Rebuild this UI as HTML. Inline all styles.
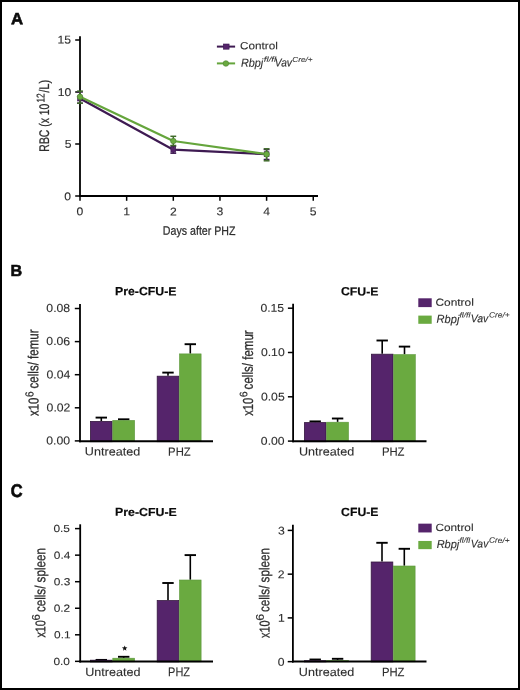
<!DOCTYPE html><html><head><meta charset="utf-8"><style>html,body{margin:0;padding:0;background:#fff;}svg{display:block;font-family:"Liberation Sans",sans-serif;} text{text-rendering:geometricPrecision;}</style></head><body><div style="width:520px;height:690px;will-change:transform"><svg width="520" height="690" viewBox="0 0 520 690" font-family='"Liberation Sans", sans-serif'><rect x="0" y="0" width="520" height="690" fill="#fff"/><line x1="80.00" y1="36.30" x2="80.00" y2="197.00" stroke="#000" stroke-width="1.80" stroke-linecap="butt"/><line x1="79.10" y1="196.00" x2="318.00" y2="196.00" stroke="#000" stroke-width="1.80" stroke-linecap="butt"/><line x1="75.20" y1="40.00" x2="80.00" y2="40.00" stroke="#000" stroke-width="1.50" stroke-linecap="butt"/><line x1="75.20" y1="92.00" x2="80.00" y2="92.00" stroke="#000" stroke-width="1.50" stroke-linecap="butt"/><line x1="75.20" y1="144.00" x2="80.00" y2="144.00" stroke="#000" stroke-width="1.50" stroke-linecap="butt"/><line x1="75.20" y1="196.00" x2="80.00" y2="196.00" stroke="#000" stroke-width="1.50" stroke-linecap="butt"/><line x1="80.00" y1="196.00" x2="80.00" y2="200.80" stroke="#000" stroke-width="1.50" stroke-linecap="butt"/><line x1="126.65" y1="196.00" x2="126.65" y2="200.80" stroke="#000" stroke-width="1.50" stroke-linecap="butt"/><line x1="173.30" y1="196.00" x2="173.30" y2="200.80" stroke="#000" stroke-width="1.50" stroke-linecap="butt"/><line x1="219.95" y1="196.00" x2="219.95" y2="200.80" stroke="#000" stroke-width="1.50" stroke-linecap="butt"/><line x1="266.60" y1="196.00" x2="266.60" y2="200.80" stroke="#000" stroke-width="1.50" stroke-linecap="butt"/><line x1="313.25" y1="196.00" x2="313.25" y2="200.80" stroke="#000" stroke-width="1.50" stroke-linecap="butt"/><line x1="80.00" y1="92.00" x2="80.00" y2="103.20" stroke="#3e1a52" stroke-width="1.50" stroke-linecap="butt"/><line x1="77.10" y1="92.00" x2="82.90" y2="92.00" stroke="#3e1a52" stroke-width="1.50" stroke-linecap="butt"/><line x1="77.10" y1="103.20" x2="82.90" y2="103.20" stroke="#3e1a52" stroke-width="1.50" stroke-linecap="butt"/><line x1="173.30" y1="146.20" x2="173.30" y2="153.20" stroke="#3e1a52" stroke-width="1.50" stroke-linecap="butt"/><line x1="170.40" y1="146.20" x2="176.20" y2="146.20" stroke="#3e1a52" stroke-width="1.50" stroke-linecap="butt"/><line x1="170.40" y1="153.20" x2="176.20" y2="153.20" stroke="#3e1a52" stroke-width="1.50" stroke-linecap="butt"/><line x1="266.60" y1="149.50" x2="266.60" y2="159.50" stroke="#3e1a52" stroke-width="1.50" stroke-linecap="butt"/><line x1="263.70" y1="149.50" x2="269.50" y2="149.50" stroke="#3e1a52" stroke-width="1.50" stroke-linecap="butt"/><line x1="263.70" y1="159.50" x2="269.50" y2="159.50" stroke="#3e1a52" stroke-width="1.50" stroke-linecap="butt"/><polyline points="80.0,98.5 173.3,149.7 266.6,154.2" fill="none" stroke="#3e1a52" stroke-width="2.2" stroke-linejoin="round"/><rect x="77.60" y="96.00" width="4.80" height="5.00" fill="#55246b" stroke="#3e1a52" stroke-width="0.6"/><rect x="170.90" y="147.20" width="4.80" height="5.00" fill="#55246b" stroke="#3e1a52" stroke-width="0.6"/><rect x="264.20" y="151.70" width="4.80" height="5.00" fill="#55246b" stroke="#3e1a52" stroke-width="0.6"/><line x1="80.00" y1="91.10" x2="80.00" y2="103.20" stroke="#3f6a2a" stroke-width="1.50" stroke-linecap="butt"/><line x1="77.10" y1="91.10" x2="82.90" y2="91.10" stroke="#3f6a2a" stroke-width="1.50" stroke-linecap="butt"/><line x1="77.10" y1="103.20" x2="82.90" y2="103.20" stroke="#3f6a2a" stroke-width="1.50" stroke-linecap="butt"/><line x1="173.30" y1="136.30" x2="173.30" y2="145.50" stroke="#3f6a2a" stroke-width="1.50" stroke-linecap="butt"/><line x1="170.40" y1="136.30" x2="176.20" y2="136.30" stroke="#3f6a2a" stroke-width="1.50" stroke-linecap="butt"/><line x1="170.40" y1="145.50" x2="176.20" y2="145.50" stroke="#3f6a2a" stroke-width="1.50" stroke-linecap="butt"/><line x1="266.60" y1="148.80" x2="266.60" y2="160.80" stroke="#3f6a2a" stroke-width="1.50" stroke-linecap="butt"/><line x1="263.70" y1="148.80" x2="269.50" y2="148.80" stroke="#3f6a2a" stroke-width="1.50" stroke-linecap="butt"/><line x1="263.70" y1="160.80" x2="269.50" y2="160.80" stroke="#3f6a2a" stroke-width="1.50" stroke-linecap="butt"/><polyline points="80.0,96.8 173.3,141.0 266.6,154.2" fill="none" stroke="#65a53c" stroke-width="2.2" stroke-linejoin="round"/><circle cx="80.0" cy="96.8" r="2.8" fill="#6aaa40" stroke="#4a8030" stroke-width="0.6"/><circle cx="173.3" cy="141.0" r="2.8" fill="#6aaa40" stroke="#4a8030" stroke-width="0.6"/><circle cx="266.6" cy="154.2" r="2.8" fill="#6aaa40" stroke="#4a8030" stroke-width="0.6"/><line x1="216.90" y1="46.60" x2="235.10" y2="46.60" stroke="#3e1a52" stroke-width="2.00" stroke-linecap="butt"/><rect x="223.30" y="44.00" width="5.80" height="5.20" fill="#55246b" stroke="#3e1a52" stroke-width="0.6"/><line x1="216.90" y1="63.40" x2="235.10" y2="63.40" stroke="#65a53c" stroke-width="2.00" stroke-linecap="butt"/><circle cx="225.9" cy="63.5" r="2.8" fill="#6aaa40" stroke="#4a8030" stroke-width="0.6"/><line x1="101.30" y1="417.60" x2="101.30" y2="421.00" stroke="#000" stroke-width="1.60" stroke-linecap="butt"/><line x1="95.60" y1="417.60" x2="107.00" y2="417.60" stroke="#000" stroke-width="1.90" stroke-linecap="butt"/><rect x="90.50" y="421.40" width="21.60" height="20.30" fill="#55246b" stroke="#35183f" stroke-width="0.8"/><line x1="123.70" y1="419.30" x2="123.70" y2="420.10" stroke="#000" stroke-width="1.60" stroke-linecap="butt"/><line x1="118.00" y1="419.30" x2="129.40" y2="419.30" stroke="#000" stroke-width="1.90" stroke-linecap="butt"/><rect x="112.80" y="420.40" width="21.80" height="21.20" fill="#6aaa40" stroke="#5a963a" stroke-width="0.6"/><line x1="168.00" y1="372.60" x2="168.00" y2="375.80" stroke="#000" stroke-width="1.60" stroke-linecap="butt"/><line x1="162.30" y1="372.60" x2="173.70" y2="372.60" stroke="#000" stroke-width="1.90" stroke-linecap="butt"/><rect x="157.20" y="376.20" width="21.60" height="65.50" fill="#55246b" stroke="#35183f" stroke-width="0.8"/><line x1="190.30" y1="344.20" x2="190.30" y2="353.60" stroke="#000" stroke-width="1.60" stroke-linecap="butt"/><line x1="184.60" y1="344.20" x2="196.00" y2="344.20" stroke="#000" stroke-width="1.90" stroke-linecap="butt"/><rect x="179.50" y="353.90" width="21.60" height="87.70" fill="#6aaa40" stroke="#5a963a" stroke-width="0.6"/><line x1="80.00" y1="304.00" x2="80.00" y2="442.30" stroke="#000" stroke-width="1.80" stroke-linecap="butt"/><line x1="79.10" y1="441.30" x2="213.00" y2="441.30" stroke="#000" stroke-width="2.00" stroke-linecap="butt"/><line x1="74.80" y1="308.50" x2="80.00" y2="308.50" stroke="#000" stroke-width="1.50" stroke-linecap="butt"/><line x1="74.80" y1="341.60" x2="80.00" y2="341.60" stroke="#000" stroke-width="1.50" stroke-linecap="butt"/><line x1="74.80" y1="374.70" x2="80.00" y2="374.70" stroke="#000" stroke-width="1.50" stroke-linecap="butt"/><line x1="74.80" y1="407.80" x2="80.00" y2="407.80" stroke="#000" stroke-width="1.50" stroke-linecap="butt"/><line x1="74.80" y1="440.90" x2="80.00" y2="440.90" stroke="#000" stroke-width="1.50" stroke-linecap="butt"/><line x1="315.20" y1="421.40" x2="315.20" y2="422.20" stroke="#000" stroke-width="1.60" stroke-linecap="butt"/><line x1="309.50" y1="421.40" x2="320.90" y2="421.40" stroke="#000" stroke-width="1.90" stroke-linecap="butt"/><rect x="304.40" y="422.60" width="21.60" height="19.10" fill="#55246b" stroke="#35183f" stroke-width="0.8"/><line x1="337.60" y1="418.50" x2="337.60" y2="421.90" stroke="#000" stroke-width="1.60" stroke-linecap="butt"/><line x1="331.90" y1="418.50" x2="343.30" y2="418.50" stroke="#000" stroke-width="1.90" stroke-linecap="butt"/><rect x="326.70" y="422.20" width="21.80" height="19.40" fill="#6aaa40" stroke="#5a963a" stroke-width="0.6"/><line x1="382.20" y1="340.50" x2="382.20" y2="353.80" stroke="#000" stroke-width="1.60" stroke-linecap="butt"/><line x1="376.50" y1="340.50" x2="387.90" y2="340.50" stroke="#000" stroke-width="1.90" stroke-linecap="butt"/><rect x="371.40" y="354.20" width="21.60" height="87.50" fill="#55246b" stroke="#35183f" stroke-width="0.8"/><line x1="404.50" y1="346.60" x2="404.50" y2="354.30" stroke="#000" stroke-width="1.60" stroke-linecap="butt"/><line x1="398.80" y1="346.60" x2="410.20" y2="346.60" stroke="#000" stroke-width="1.90" stroke-linecap="butt"/><rect x="393.70" y="354.60" width="21.60" height="87.00" fill="#6aaa40" stroke="#5a963a" stroke-width="0.6"/><line x1="293.10" y1="303.80" x2="293.10" y2="442.30" stroke="#000" stroke-width="1.80" stroke-linecap="butt"/><line x1="292.20" y1="441.30" x2="426.50" y2="441.30" stroke="#000" stroke-width="2.00" stroke-linecap="butt"/><line x1="287.90" y1="308.20" x2="293.10" y2="308.20" stroke="#000" stroke-width="1.50" stroke-linecap="butt"/><line x1="287.90" y1="352.50" x2="293.10" y2="352.50" stroke="#000" stroke-width="1.50" stroke-linecap="butt"/><line x1="287.90" y1="396.80" x2="293.10" y2="396.80" stroke="#000" stroke-width="1.50" stroke-linecap="butt"/><line x1="287.90" y1="441.10" x2="293.10" y2="441.10" stroke="#000" stroke-width="1.50" stroke-linecap="butt"/><line x1="101.30" y1="659.90" x2="101.30" y2="659.80" stroke="#000" stroke-width="1.60" stroke-linecap="butt"/><line x1="95.60" y1="659.90" x2="107.00" y2="659.90" stroke="#000" stroke-width="1.90" stroke-linecap="butt"/><rect x="90.50" y="660.20" width="21.60" height="1.70" fill="#55246b" stroke="#35183f" stroke-width="0.8"/><line x1="123.70" y1="656.80" x2="123.70" y2="657.90" stroke="#000" stroke-width="1.60" stroke-linecap="butt"/><line x1="118.00" y1="656.80" x2="129.40" y2="656.80" stroke="#000" stroke-width="1.90" stroke-linecap="butt"/><rect x="112.80" y="658.20" width="21.80" height="3.60" fill="#6aaa40" stroke="#5a963a" stroke-width="0.6"/><line x1="168.00" y1="583.00" x2="168.00" y2="600.20" stroke="#000" stroke-width="1.60" stroke-linecap="butt"/><line x1="162.30" y1="583.00" x2="173.70" y2="583.00" stroke="#000" stroke-width="1.90" stroke-linecap="butt"/><rect x="157.20" y="600.60" width="21.60" height="61.30" fill="#55246b" stroke="#35183f" stroke-width="0.8"/><line x1="190.30" y1="555.10" x2="190.30" y2="579.70" stroke="#000" stroke-width="1.60" stroke-linecap="butt"/><line x1="184.60" y1="555.10" x2="196.00" y2="555.10" stroke="#000" stroke-width="1.90" stroke-linecap="butt"/><rect x="179.50" y="580.00" width="21.60" height="81.80" fill="#6aaa40" stroke="#5a963a" stroke-width="0.6"/><line x1="80.20" y1="524.30" x2="80.20" y2="662.50" stroke="#000" stroke-width="1.80" stroke-linecap="butt"/><line x1="79.30" y1="661.50" x2="213.00" y2="661.50" stroke="#000" stroke-width="2.00" stroke-linecap="butt"/><line x1="75.00" y1="528.60" x2="80.20" y2="528.60" stroke="#000" stroke-width="1.50" stroke-linecap="butt"/><line x1="75.00" y1="555.15" x2="80.20" y2="555.15" stroke="#000" stroke-width="1.50" stroke-linecap="butt"/><line x1="75.00" y1="581.70" x2="80.20" y2="581.70" stroke="#000" stroke-width="1.50" stroke-linecap="butt"/><line x1="75.00" y1="608.25" x2="80.20" y2="608.25" stroke="#000" stroke-width="1.50" stroke-linecap="butt"/><line x1="75.00" y1="634.80" x2="80.20" y2="634.80" stroke="#000" stroke-width="1.50" stroke-linecap="butt"/><line x1="75.00" y1="661.35" x2="80.20" y2="661.35" stroke="#000" stroke-width="1.50" stroke-linecap="butt"/><line x1="315.20" y1="659.50" x2="315.20" y2="660.30" stroke="#000" stroke-width="1.60" stroke-linecap="butt"/><line x1="309.50" y1="659.50" x2="320.90" y2="659.50" stroke="#000" stroke-width="1.90" stroke-linecap="butt"/><rect x="304.40" y="660.70" width="21.60" height="1.20" fill="#55246b" stroke="#35183f" stroke-width="0.8"/><line x1="337.60" y1="658.80" x2="337.60" y2="660.10" stroke="#000" stroke-width="1.60" stroke-linecap="butt"/><line x1="331.90" y1="658.80" x2="343.30" y2="658.80" stroke="#000" stroke-width="1.90" stroke-linecap="butt"/><rect x="326.70" y="660.40" width="21.80" height="1.40" fill="#6aaa40" stroke="#5a963a" stroke-width="0.6"/><line x1="382.00" y1="542.80" x2="382.00" y2="561.60" stroke="#000" stroke-width="1.60" stroke-linecap="butt"/><line x1="376.30" y1="542.80" x2="387.70" y2="542.80" stroke="#000" stroke-width="1.90" stroke-linecap="butt"/><rect x="371.20" y="562.00" width="21.60" height="99.90" fill="#55246b" stroke="#35183f" stroke-width="0.8"/><line x1="404.30" y1="548.80" x2="404.30" y2="565.70" stroke="#000" stroke-width="1.60" stroke-linecap="butt"/><line x1="398.60" y1="548.80" x2="410.00" y2="548.80" stroke="#000" stroke-width="1.90" stroke-linecap="butt"/><rect x="393.50" y="566.00" width="21.60" height="95.80" fill="#6aaa40" stroke="#5a963a" stroke-width="0.6"/><line x1="292.90" y1="524.80" x2="292.90" y2="662.50" stroke="#000" stroke-width="1.80" stroke-linecap="butt"/><line x1="292.00" y1="661.50" x2="426.50" y2="661.50" stroke="#000" stroke-width="2.00" stroke-linecap="butt"/><line x1="287.70" y1="530.40" x2="292.90" y2="530.40" stroke="#000" stroke-width="1.50" stroke-linecap="butt"/><line x1="287.70" y1="574.15" x2="292.90" y2="574.15" stroke="#000" stroke-width="1.50" stroke-linecap="butt"/><line x1="287.70" y1="617.90" x2="292.90" y2="617.90" stroke="#000" stroke-width="1.50" stroke-linecap="butt"/><line x1="287.70" y1="661.65" x2="292.90" y2="661.65" stroke="#000" stroke-width="1.50" stroke-linecap="butt"/><polygon points="124.70,645.40 125.43,647.29 127.46,647.40 125.89,648.69 126.40,650.65 124.70,649.55 123.00,650.65 123.51,648.69 121.94,647.40 123.97,647.29" fill="#111"/><rect x="418.30" y="298.30" width="13.40" height="8.80" fill="#55246b"/><rect x="418.30" y="315.60" width="13.40" height="8.20" fill="#6aaa40"/><rect x="418.30" y="523.65" width="13.40" height="8.80" fill="#55246b"/><rect x="418.30" y="540.95" width="13.40" height="8.20" fill="#6aaa40"/><g id="lA" transform="translate(10.96,24.31) scale(1.6779,1.6363)"><text x="0" y="0" transform="rotate(0.04)" font-size="10" font-weight="bold" fill="#0a0a0a" stroke="#0a0a0a" stroke-width="0.350" text-anchor="start">A</text></g><g id="lB" transform="translate(10.43,275.94) scale(1.6130,1.6027)"><text x="0" y="0" transform="rotate(0.04)" font-size="10" font-weight="bold" fill="#0a0a0a" stroke="#0a0a0a" stroke-width="0.350" text-anchor="start">B</text></g><g id="lC" transform="translate(10.87,496.97) scale(1.6404,1.8349)"><text x="0" y="0" transform="rotate(0.04)" font-size="10" font-weight="bold" fill="#0a0a0a" stroke="#0a0a0a" stroke-width="0.350" text-anchor="start">C</text></g><g id="aY15" transform="translate(57.50,43.62) scale(1.2160,1.1371)"><text x="0" y="0" transform="rotate(0.04)" font-size="10" font-weight="normal" fill="#2e2e2e" stroke="#2e2e2e" stroke-width="0.100" text-anchor="start">15</text></g><g id="aY10" transform="translate(71.34,95.94) scale(1.2160,1.1371)"><text x="0" y="0" transform="rotate(0.04)" font-size="10" font-weight="normal" fill="#2e2e2e" stroke="#2e2e2e" stroke-width="0.100" text-anchor="end">10</text></g><g id="aY5" transform="translate(71.44,147.87) scale(1.2160,1.1371)"><text x="0" y="0" transform="rotate(0.04)" font-size="10" font-weight="normal" fill="#2e2e2e" stroke="#2e2e2e" stroke-width="0.100" text-anchor="end">5</text></g><g id="aY0" transform="translate(71.08,200.18) scale(1.2160,1.1371)"><text x="0" y="0" transform="rotate(0.04)" font-size="10" font-weight="normal" fill="#2e2e2e" stroke="#2e2e2e" stroke-width="0.100" text-anchor="end">0</text></g><g id="aX0" transform="translate(80.00,215.36) scale(1.2160,1.1371)"><text x="0" y="0" transform="rotate(0.04)" font-size="10" font-weight="normal" fill="#2e2e2e" stroke="#2e2e2e" stroke-width="0.100" text-anchor="middle">0</text></g><g id="aX1" transform="translate(126.68,215.26) scale(1.2160,1.1371)"><text x="0" y="0" transform="rotate(0.04)" font-size="10" font-weight="normal" fill="#2e2e2e" stroke="#2e2e2e" stroke-width="0.100" text-anchor="middle">1</text></g><g id="aX2" transform="translate(173.27,215.45) scale(1.2160,1.1371)"><text x="0" y="0" transform="rotate(0.04)" font-size="10" font-weight="normal" fill="#2e2e2e" stroke="#2e2e2e" stroke-width="0.100" text-anchor="middle">2</text></g><g id="aX3" transform="translate(219.81,215.31) scale(1.2160,1.1371)"><text x="0" y="0" transform="rotate(0.04)" font-size="10" font-weight="normal" fill="#2e2e2e" stroke="#2e2e2e" stroke-width="0.100" text-anchor="middle">3</text></g><g id="aX4" transform="translate(266.67,215.33) scale(1.2160,1.1371)"><text x="0" y="0" transform="rotate(0.04)" font-size="10" font-weight="normal" fill="#2e2e2e" stroke="#2e2e2e" stroke-width="0.100" text-anchor="middle">4</text></g><g id="aX5" transform="translate(313.24,215.14) scale(1.2160,1.1371)"><text x="0" y="0" transform="rotate(0.04)" font-size="10" font-weight="normal" fill="#2e2e2e" stroke="#2e2e2e" stroke-width="0.100" text-anchor="middle">5</text></g><g id="aXt" transform="translate(162.86,234.84) scale(1.0627,1.2343)"><text x="0" y="0" transform="rotate(0.04)" font-size="10" font-weight="normal" fill="#2e2e2e" stroke="#2e2e2e" stroke-width="0.200" text-anchor="start">Days after PHZ</text></g><g id="aYt1" transform="translate(48.95,151.63) scale(1.3911,1.0405)"><text x="0" y="0" transform="rotate(-89.96)" font-size="10" font-weight="normal" fill="#2e2e2e" stroke="#2e2e2e" stroke-width="0.200" text-anchor="start">RBC (x 10</text></g><g id="aYt2" transform="translate(44.44,102.61) scale(1.1321,0.8339)"><text x="0" y="0" transform="rotate(-89.96)" font-size="10" font-weight="normal" fill="#2e2e2e" stroke="#2e2e2e" stroke-width="0.200" text-anchor="start">12</text></g><g id="aYt3" transform="translate(49.04,92.83) scale(1.3912,1.1153)"><text x="0" y="0" transform="rotate(-89.96)" font-size="10" font-weight="normal" fill="#2e2e2e" stroke="#2e2e2e" stroke-width="0.200" text-anchor="start">/L)</text></g><g id="aLc" transform="translate(239.96,49.23) scale(1.1734,1.0421)"><text x="0" y="0" transform="rotate(0.04)" font-size="10" font-weight="normal" fill="#2e2e2e" stroke="#2e2e2e" stroke-width="0.100" text-anchor="start">Control</text></g><g id="aLr1" transform="translate(240.89,66.78) scale(1.0833,1.1722)"><text x="0" y="0" transform="rotate(0.04)" font-size="10" font-weight="normal" font-style="italic" fill="#2e2e2e" stroke="#2e2e2e" stroke-width="0.100" text-anchor="start">Rbpj</text></g><g id="aLr2" transform="translate(263.83,61.65) scale(0.9660,0.7279)"><text x="0" y="0" transform="rotate(0.04)" font-size="10" font-weight="normal" font-style="italic" fill="#2e2e2e" stroke="#2e2e2e" stroke-width="0.100" text-anchor="start">fl/fl</text></g><g id="aLr3" transform="translate(274.73,66.54) scale(1.0198,1.1597)"><text x="0" y="0" transform="rotate(0.04)" font-size="10" font-weight="normal" font-style="italic" fill="#2e2e2e" stroke="#2e2e2e" stroke-width="0.100" text-anchor="start">Vav</text></g><g id="aLr4" transform="translate(292.26,61.99) scale(0.8253,0.7232)"><text x="0" y="0" transform="rotate(0.04)" font-size="10" font-weight="normal" font-style="italic" fill="#2e2e2e" stroke="#2e2e2e" stroke-width="0.100" text-anchor="start">Cre/+</text></g><g id="bT1" transform="translate(115.00,295.34) scale(1.2296,1.1892)"><text x="0" y="0" transform="rotate(0.04)" font-size="10" font-weight="bold" fill="#0a0a0a" stroke="#0a0a0a" stroke-width="0.150" text-anchor="start">Pre-CFU-E</text></g><g id="bT2" transform="translate(340.95,295.37) scale(1.2275,1.1798)"><text x="0" y="0" transform="rotate(0.04)" font-size="10" font-weight="bold" fill="#0a0a0a" stroke="#0a0a0a" stroke-width="0.150" text-anchor="start">CFU-E</text></g><g id="cT1" transform="translate(114.95,515.87) scale(1.2366,1.1580)"><text x="0" y="0" transform="rotate(0.04)" font-size="10" font-weight="bold" fill="#0a0a0a" stroke="#0a0a0a" stroke-width="0.150" text-anchor="start">Pre-CFU-E</text></g><g id="cT2" transform="translate(341.09,515.94) scale(1.2240,1.1851)"><text x="0" y="0" transform="rotate(0.04)" font-size="10" font-weight="bold" fill="#0a0a0a" stroke="#0a0a0a" stroke-width="0.150" text-anchor="start">CFU-E</text></g><g id="bLy0" transform="translate(46.36,312.07) scale(1.2239,1.1646)"><text x="0" y="0" transform="rotate(0.04)" font-size="10" font-weight="normal" fill="#2e2e2e" stroke="#2e2e2e" stroke-width="0.100" text-anchor="start">0.08</text></g><g id="bLy1" transform="translate(70.17,345.13) scale(1.2239,1.1646)"><text x="0" y="0" transform="rotate(0.04)" font-size="10" font-weight="normal" fill="#2e2e2e" stroke="#2e2e2e" stroke-width="0.100" text-anchor="end">0.06</text></g><g id="bLy2" transform="translate(70.33,378.41) scale(1.2239,1.1646)"><text x="0" y="0" transform="rotate(0.04)" font-size="10" font-weight="normal" fill="#2e2e2e" stroke="#2e2e2e" stroke-width="0.100" text-anchor="end">0.04</text></g><g id="bLy3" transform="translate(70.43,411.40) scale(1.2239,1.1646)"><text x="0" y="0" transform="rotate(0.04)" font-size="10" font-weight="normal" fill="#2e2e2e" stroke="#2e2e2e" stroke-width="0.100" text-anchor="end">0.02</text></g><g id="bLy4" transform="translate(70.03,444.54) scale(1.2239,1.1646)"><text x="0" y="0" transform="rotate(0.04)" font-size="10" font-weight="normal" fill="#2e2e2e" stroke="#2e2e2e" stroke-width="0.100" text-anchor="end">0.00</text></g><g id="bRy0" transform="translate(260.38,311.78) scale(1.2208,1.1234)"><text x="0" y="0" transform="rotate(0.04)" font-size="10" font-weight="normal" fill="#2e2e2e" stroke="#2e2e2e" stroke-width="0.100" text-anchor="start">0.15</text></g><g id="bRy1" transform="translate(284.71,356.11) scale(1.2208,1.1234)"><text x="0" y="0" transform="rotate(0.04)" font-size="10" font-weight="normal" fill="#2e2e2e" stroke="#2e2e2e" stroke-width="0.100" text-anchor="end">0.10</text></g><g id="bRy2" transform="translate(284.70,400.45) scale(1.2208,1.1234)"><text x="0" y="0" transform="rotate(0.04)" font-size="10" font-weight="normal" fill="#2e2e2e" stroke="#2e2e2e" stroke-width="0.100" text-anchor="end">0.05</text></g><g id="bRy3" transform="translate(284.61,444.74) scale(1.2208,1.1234)"><text x="0" y="0" transform="rotate(0.04)" font-size="10" font-weight="normal" fill="#2e2e2e" stroke="#2e2e2e" stroke-width="0.100" text-anchor="end">0.00</text></g><g id="cLy0" transform="translate(53.45,532.09) scale(1.1892,1.0265)"><text x="0" y="0" transform="rotate(0.04)" font-size="10" font-weight="normal" fill="#2e2e2e" stroke="#2e2e2e" stroke-width="0.100" text-anchor="start">0.5</text></g><g id="cLy1" transform="translate(70.35,558.76) scale(1.1892,1.0265)"><text x="0" y="0" transform="rotate(0.04)" font-size="10" font-weight="normal" fill="#2e2e2e" stroke="#2e2e2e" stroke-width="0.100" text-anchor="end">0.4</text></g><g id="cLy2" transform="translate(70.26,585.26) scale(1.1892,1.0265)"><text x="0" y="0" transform="rotate(0.04)" font-size="10" font-weight="normal" fill="#2e2e2e" stroke="#2e2e2e" stroke-width="0.100" text-anchor="end">0.3</text></g><g id="cLy3" transform="translate(70.20,611.85) scale(1.1892,1.0265)"><text x="0" y="0" transform="rotate(0.04)" font-size="10" font-weight="normal" fill="#2e2e2e" stroke="#2e2e2e" stroke-width="0.100" text-anchor="end">0.2</text></g><g id="cLy4" transform="translate(70.63,638.35) scale(1.1892,1.0265)"><text x="0" y="0" transform="rotate(0.04)" font-size="10" font-weight="normal" fill="#2e2e2e" stroke="#2e2e2e" stroke-width="0.100" text-anchor="end">0.1</text></g><g id="cLy5" transform="translate(69.96,664.97) scale(1.1892,1.0265)"><text x="0" y="0" transform="rotate(0.04)" font-size="10" font-weight="normal" fill="#2e2e2e" stroke="#2e2e2e" stroke-width="0.100" text-anchor="end">0.0</text></g><g id="cRy0" transform="translate(284.68,534.54) scale(1.2208,1.1234)"><text x="0" y="0" transform="rotate(0.04)" font-size="10" font-weight="normal" fill="#2e2e2e" stroke="#2e2e2e" stroke-width="0.100" text-anchor="end">3</text></g><g id="cRy1" transform="translate(284.66,578.28) scale(1.2208,1.1234)"><text x="0" y="0" transform="rotate(0.04)" font-size="10" font-weight="normal" fill="#2e2e2e" stroke="#2e2e2e" stroke-width="0.100" text-anchor="end">2</text></g><g id="cRy2" transform="translate(284.74,621.85) scale(1.2208,1.1234)"><text x="0" y="0" transform="rotate(0.04)" font-size="10" font-weight="normal" fill="#2e2e2e" stroke="#2e2e2e" stroke-width="0.100" text-anchor="end">1</text></g><g id="cRy3" transform="translate(284.45,665.66) scale(1.2208,1.1234)"><text x="0" y="0" transform="rotate(0.04)" font-size="10" font-weight="normal" fill="#2e2e2e" stroke="#2e2e2e" stroke-width="0.100" text-anchor="end">0</text></g><g id="bLu" transform="translate(84.86,455.37) scale(1.2597,1.1752)"><text x="0" y="0" transform="rotate(0.04)" font-size="10" font-weight="normal" fill="#2e2e2e" stroke="#2e2e2e" stroke-width="0.100" text-anchor="start">Untreated</text></g><g id="bLp" transform="translate(168.09,455.67) scale(1.1314,1.1995)"><text x="0" y="0" transform="rotate(0.04)" font-size="10" font-weight="normal" fill="#2e2e2e" stroke="#2e2e2e" stroke-width="0.100" text-anchor="start">PHZ</text></g><g id="bRu" transform="translate(326.64,455.41) scale(1.2597,1.1752)"><text x="0" y="0" transform="rotate(0.04)" font-size="10" font-weight="normal" fill="#2e2e2e" stroke="#2e2e2e" stroke-width="0.100" text-anchor="middle">Untreated</text></g><g id="bRp" transform="translate(381.90,455.64) scale(1.1313,1.2094)"><text x="0" y="0" transform="rotate(0.04)" font-size="10" font-weight="normal" fill="#2e2e2e" stroke="#2e2e2e" stroke-width="0.100" text-anchor="start">PHZ</text></g><g id="cLu" transform="translate(112.89,676.04) scale(1.2597,1.1752)"><text x="0" y="0" transform="rotate(0.04)" font-size="10" font-weight="normal" fill="#2e2e2e" stroke="#2e2e2e" stroke-width="0.100" text-anchor="middle">Untreated</text></g><g id="cLp" transform="translate(168.11,676.24) scale(1.0981,1.2584)"><text x="0" y="0" transform="rotate(0.04)" font-size="10" font-weight="normal" fill="#2e2e2e" stroke="#2e2e2e" stroke-width="0.100" text-anchor="start">PHZ</text></g><g id="cRu" transform="translate(326.52,676.03) scale(1.2597,1.1752)"><text x="0" y="0" transform="rotate(0.04)" font-size="10" font-weight="normal" fill="#2e2e2e" stroke="#2e2e2e" stroke-width="0.100" text-anchor="middle">Untreated</text></g><g id="cRp" transform="translate(381.88,676.34) scale(1.1248,1.2311)"><text x="0" y="0" transform="rotate(0.04)" font-size="10" font-weight="normal" fill="#2e2e2e" stroke="#2e2e2e" stroke-width="0.100" text-anchor="start">PHZ</text></g><g id="bLyl1" transform="translate(38.38,415.96) scale(1.4409,1.1378)"><text x="0" y="0" transform="rotate(-89.96)" font-size="10" font-weight="normal" fill="#2e2e2e" stroke="#2e2e2e" stroke-width="0.200" text-anchor="start">x10</text></g><g id="bLyl2" transform="translate(33.42,397.06) scale(1.1801,1.0041)"><text x="0" y="0" transform="rotate(-89.96)" font-size="10" font-weight="normal" fill="#2e2e2e" stroke="#2e2e2e" stroke-width="0.150" text-anchor="start">6</text></g><g id="bLyl3" transform="translate(38.32,388.44) scale(1.4502,1.1545)"><text x="0" y="0" transform="rotate(-89.96)" font-size="10" font-weight="normal" fill="#2e2e2e" stroke="#2e2e2e" stroke-width="0.200" text-anchor="start">cells/ femur</text></g><g id="bRyl1" transform="translate(252.91,415.74) scale(1.4501,1.1202)"><text x="0" y="0" transform="rotate(-89.96)" font-size="10" font-weight="normal" fill="#2e2e2e" stroke="#2e2e2e" stroke-width="0.200" text-anchor="start">x10</text></g><g id="bRyl2" transform="translate(247.30,397.13) scale(1.0860,1.0640)"><text x="0" y="0" transform="rotate(-89.96)" font-size="10" font-weight="normal" fill="#2e2e2e" stroke="#2e2e2e" stroke-width="0.150" text-anchor="start">6</text></g><g id="bRyl3" transform="translate(252.85,389.38) scale(1.4826,1.1559)"><text x="0" y="0" transform="rotate(-89.96)" font-size="10" font-weight="normal" fill="#2e2e2e" stroke="#2e2e2e" stroke-width="0.200" text-anchor="start">cells/ femur</text></g><g id="cLyl1" transform="translate(45.30,637.56) scale(1.3985,1.0801)"><text x="0" y="0" transform="rotate(-89.96)" font-size="10" font-weight="normal" fill="#2e2e2e" stroke="#2e2e2e" stroke-width="0.200" text-anchor="start">x10</text></g><g id="cLyl2" transform="translate(39.87,620.45) scale(1.1166,1.1295)"><text x="0" y="0" transform="rotate(-89.96)" font-size="10" font-weight="normal" fill="#2e2e2e" stroke="#2e2e2e" stroke-width="0.150" text-anchor="start">6</text></g><g id="cLyl3" transform="translate(45.22,612.10) scale(1.4562,1.1627)"><text x="0" y="0" transform="rotate(-89.96)" font-size="10" font-weight="normal" fill="#2e2e2e" stroke="#2e2e2e" stroke-width="0.200" text-anchor="start">cells/ spleen</text></g><g id="cRyl1" transform="translate(269.44,637.98) scale(1.4278,1.0945)"><text x="0" y="0" transform="rotate(-89.96)" font-size="10" font-weight="normal" fill="#2e2e2e" stroke="#2e2e2e" stroke-width="0.200" text-anchor="start">x10</text></g><g id="cRyl2" transform="translate(263.76,620.71) scale(1.1118,1.2420)"><text x="0" y="0" transform="rotate(-89.96)" font-size="10" font-weight="normal" fill="#2e2e2e" stroke="#2e2e2e" stroke-width="0.150" text-anchor="start">6</text></g><g id="cRyl3" transform="translate(269.20,612.10) scale(1.4275,1.1624)"><text x="0" y="0" transform="rotate(-89.96)" font-size="10" font-weight="normal" fill="#2e2e2e" stroke="#2e2e2e" stroke-width="0.200" text-anchor="start">cells/ spleen</text></g><g id="bLc" transform="translate(435.42,305.75) scale(1.1900,1.0243)"><text x="0" y="0" transform="rotate(0.04)" font-size="10" font-weight="normal" fill="#2e2e2e" stroke="#2e2e2e" stroke-width="0.100" text-anchor="start">Control</text></g><g id="bLr1" transform="translate(436.61,322.87) scale(1.1053,1.1457)"><text x="0" y="0" transform="rotate(0.04)" font-size="10" font-weight="normal" font-style="italic" fill="#2e2e2e" stroke="#2e2e2e" stroke-width="0.100" text-anchor="start">Rbpj</text></g><g id="bLr2" transform="translate(459.41,317.53) scale(0.8628,0.7258)"><text x="0" y="0" transform="rotate(0.04)" font-size="10" font-weight="normal" font-style="italic" fill="#2e2e2e" stroke="#2e2e2e" stroke-width="0.100" text-anchor="start">fl/fl</text></g><g id="bLr3" transform="translate(470.65,322.14) scale(1.0503,1.1343)"><text x="0" y="0" transform="rotate(0.04)" font-size="10" font-weight="normal" font-style="italic" fill="#2e2e2e" stroke="#2e2e2e" stroke-width="0.100" text-anchor="start">Vav</text></g><g id="bLr4" transform="translate(489.01,317.43) scale(0.8378,0.7718)"><text x="0" y="0" transform="rotate(0.04)" font-size="10" font-weight="normal" font-style="italic" fill="#2e2e2e" stroke="#2e2e2e" stroke-width="0.100" text-anchor="start">Cre/+</text></g><g id="cLc" transform="translate(435.40,531.03) scale(1.1841,1.0423)"><text x="0" y="0" transform="rotate(0.04)" font-size="10" font-weight="normal" fill="#2e2e2e" stroke="#2e2e2e" stroke-width="0.100" text-anchor="start">Control</text></g><g id="cLr1" transform="translate(436.64,548.10) scale(1.1007,1.1375)"><text x="0" y="0" transform="rotate(0.04)" font-size="10" font-weight="normal" font-style="italic" fill="#2e2e2e" stroke="#2e2e2e" stroke-width="0.100" text-anchor="start">Rbpj</text></g><g id="cLr2" transform="translate(459.46,542.87) scale(0.8439,0.7581)"><text x="0" y="0" transform="rotate(0.04)" font-size="10" font-weight="normal" font-style="italic" fill="#2e2e2e" stroke="#2e2e2e" stroke-width="0.100" text-anchor="start">fl/fl</text></g><g id="cLr3" transform="translate(470.78,547.52) scale(1.0421,1.1191)"><text x="0" y="0" transform="rotate(0.04)" font-size="10" font-weight="normal" font-style="italic" fill="#2e2e2e" stroke="#2e2e2e" stroke-width="0.100" text-anchor="start">Vav</text></g><g id="cLr4" transform="translate(489.01,542.87) scale(0.8300,0.7916)"><text x="0" y="0" transform="rotate(0.04)" font-size="10" font-weight="normal" font-style="italic" fill="#2e2e2e" stroke="#2e2e2e" stroke-width="0.100" text-anchor="start">Cre/+</text></g><rect x="1" y="1" width="518" height="688" fill="none" stroke="#000" stroke-width="2"/></svg></div></body></html>
